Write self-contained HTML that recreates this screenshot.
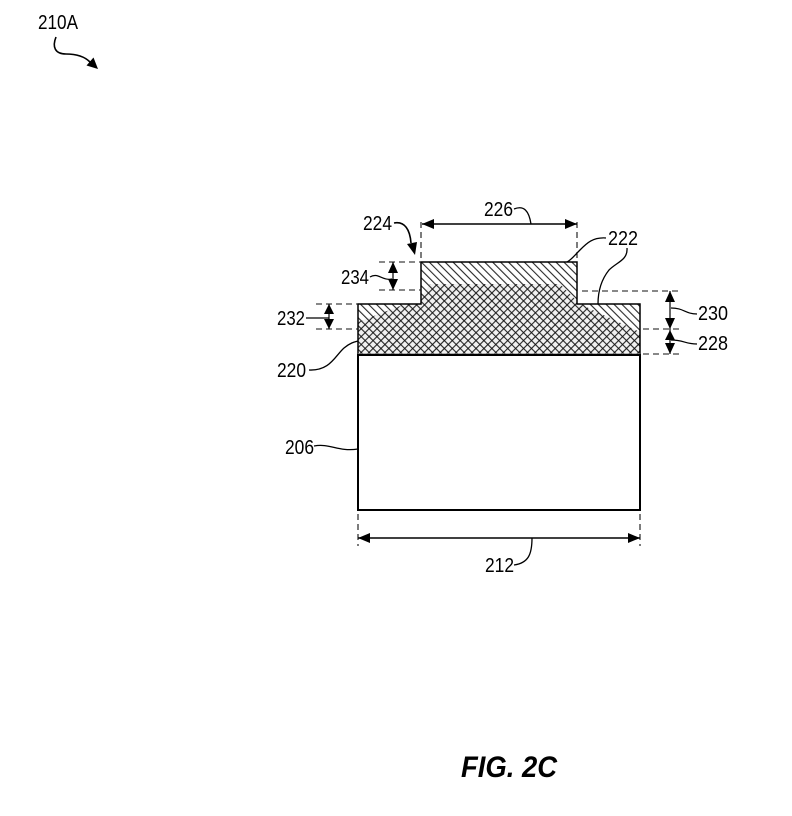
<!DOCTYPE html>
<html>
<head>
<meta charset="utf-8">
<style>
  html, body { margin:0; padding:0; background:#fff; }
  svg { display:block; }
  text { font-family: "Liberation Sans", Arial, sans-serif; font-size:20px; fill:#000; }
</style>
</head>
<body>
<svg width="792" height="816" viewBox="0 0 792 816" xmlns="http://www.w3.org/2000/svg">
  <defs>
    <pattern id="bs" patternUnits="userSpaceOnUse" width="5.6" height="20" patternTransform="rotate(-45)">
      <line x1="0.6" y1="0" x2="0.6" y2="20" stroke="#111" stroke-width="1"/>
    </pattern>
    <pattern id="fs" patternUnits="userSpaceOnUse" width="5.6" height="20" patternTransform="rotate(45)">
      <line x1="0.6" y1="0" x2="0.6" y2="20" stroke="#111" stroke-width="1"/>
    </pattern>
    <clipPath id="shape">
      <polygon points="358,355 358,304 421,304 421,262 577,262 577,304 640,304 640,355"/>
    </clipPath>
  </defs>

  <!-- 210A -->
  <text x="38" y="29" textLength="40" lengthAdjust="spacingAndGlyphs">210A</text>
  <path d="M56,37 C52,47 55,54 66,54 C76,54 84,56 90,62" fill="none" stroke="#000" stroke-width="1.6"/>
  <polygon points="98,69 86.5,65.5 93.5,57.5" fill="#000"/>

  <!-- hatched layers -->
  <g clip-path="url(#shape)">
    <rect x="358" y="262" width="282" height="93" fill="#fff"/>
    <polygon points="358,322 421,298 430,284 560,284 580,304 640,332 640,355 358,355" fill="#f1f1f1"/>
    <rect x="358" y="262" width="282" height="93" fill="url(#bs)"/>
    <polygon points="358,322 421,298 430,284 560,284 580,304 640,332 640,355 358,355" fill="url(#fs)"/>
  </g>
  <polygon points="358,355 358,304 421,304 421,262 577,262 577,304 640,304 640,355" fill="none" stroke="#000" stroke-width="1.5"/>
  <line x1="358" y1="354.5" x2="640" y2="354.5" stroke="#888" stroke-width="2.2"/>

  <!-- substrate 206 -->
  <rect x="358" y="355" width="282" height="155" fill="none" stroke="#000" stroke-width="2"/>

  <!-- dashed lines -->
  <g stroke="#111" stroke-width="1.1" stroke-dasharray="6 4" fill="none">
    <line x1="421" y1="222" x2="421" y2="262"/>
    <line x1="577" y1="222" x2="577" y2="262"/>
    <line x1="379" y1="262" x2="421" y2="262"/>
    <line x1="379" y1="290" x2="421" y2="290"/>
    <line x1="316" y1="304" x2="358" y2="304"/>
    <line x1="316" y1="329" x2="358" y2="329"/>
    <line x1="582" y1="291" x2="682" y2="291"/>
    <line x1="643" y1="329" x2="682" y2="329"/>
    <line x1="643" y1="354" x2="682" y2="354"/>
    <line x1="358" y1="514" x2="358" y2="546"/>
    <line x1="640" y1="514" x2="640" y2="546"/>
  </g>

  <!-- 226 dimension -->
  <line x1="422" y1="224" x2="577" y2="224" stroke="#000" stroke-width="1.6"/>
  <polygon points="422,224 434,219 434,229" fill="#000"/>
  <polygon points="577,224 565,219 565,229" fill="#000"/>
  <text x="484" y="216" textLength="29" lengthAdjust="spacingAndGlyphs">226</text>
  <path d="M514,209 C524,205 529,211 531,224" fill="none" stroke="#000" stroke-width="1.3"/>

  <!-- 224 -->
  <text x="363" y="230" textLength="29" lengthAdjust="spacingAndGlyphs">224</text>
  <path d="M394,223 C405,221 410,230 411,243" fill="none" stroke="#000" stroke-width="1.6"/>
  <polygon points="415,255 407,244 417,242" fill="#000"/>

  <!-- 222 -->
  <text x="608" y="245" textLength="30" lengthAdjust="spacingAndGlyphs">222</text>
  <path d="M606,238 C592,237 586,244 579,251 C574,256 571,260 567,262" fill="none" stroke="#000" stroke-width="1.3"/>
  <path d="M627,248 C628,260 617,262 609,270 C601,280 598,292 598,304" fill="none" stroke="#000" stroke-width="1.3"/>

  <!-- 234 -->
  <line x1="393" y1="262" x2="393" y2="290" stroke="#000" stroke-width="1.2"/>
  <polygon points="393,262 388,273 398,273" fill="#000"/>
  <polygon points="393,290 388,279 398,279" fill="#000"/>
  <text x="341" y="284" textLength="28" lengthAdjust="spacingAndGlyphs">234</text>
  <path d="M370,277 C378,272 382,281 392,279" fill="none" stroke="#000" stroke-width="1.2"/>

  <!-- 232 -->
  <line x1="329" y1="304" x2="329" y2="329" stroke="#000" stroke-width="1.2"/>
  <polygon points="329,304 324,314 334,314" fill="#000"/>
  <polygon points="329,329 324,319 334,319" fill="#000"/>
  <text x="277" y="325" textLength="28" lengthAdjust="spacingAndGlyphs">232</text>
  <path d="M306,318 L329,318" fill="none" stroke="#000" stroke-width="1.2"/>

  <!-- 230 / 228 -->
  <line x1="670" y1="291" x2="670" y2="354" stroke="#000" stroke-width="1.2"/>
  <polygon points="670,291 665,302 675,302" fill="#000"/>
  <polygon points="670,329 665,318 675,318" fill="#000"/>
  <polygon points="670,330 665,340 675,340" fill="#000"/>
  <polygon points="670,354 665,343 675,343" fill="#000"/>
  <text x="698" y="320" textLength="30" lengthAdjust="spacingAndGlyphs">230</text>
  <text x="698" y="350" textLength="30" lengthAdjust="spacingAndGlyphs">228</text>
  <path d="M697,314 C685,314 684,308 671,308" fill="none" stroke="#000" stroke-width="1.2"/>
  <path d="M697,344 C685,344 684,340 671,340" fill="none" stroke="#000" stroke-width="1.2"/>

  <!-- 220 -->
  <text x="277" y="377" textLength="29" lengthAdjust="spacingAndGlyphs">220</text>
  <path d="M309,370 C330,371 335,356 344,348 C350,343 354,342 358,341" fill="none" stroke="#000" stroke-width="1.3"/>

  <!-- 206 -->
  <text x="285" y="454" textLength="29" lengthAdjust="spacingAndGlyphs">206</text>
  <path d="M314,446 C330,443 338,452 358,449" fill="none" stroke="#000" stroke-width="1.3"/>

  <!-- 212 -->
  <line x1="358" y1="538" x2="640" y2="538" stroke="#000" stroke-width="1.6"/>
  <polygon points="358,538 370,533 370,543" fill="#000"/>
  <polygon points="640,538 628,533 628,543" fill="#000"/>
  <text x="485" y="572" textLength="29" lengthAdjust="spacingAndGlyphs">212</text>
  <path d="M514,565 C528,563 532,555 532,538" fill="none" stroke="#000" stroke-width="1.3"/>

  <!-- caption -->
  <text x="461" y="777" textLength="96" lengthAdjust="spacingAndGlyphs" style="font-size:30px;font-weight:bold;font-style:italic;">FIG. 2C</text>
</svg>
</body>
</html>
